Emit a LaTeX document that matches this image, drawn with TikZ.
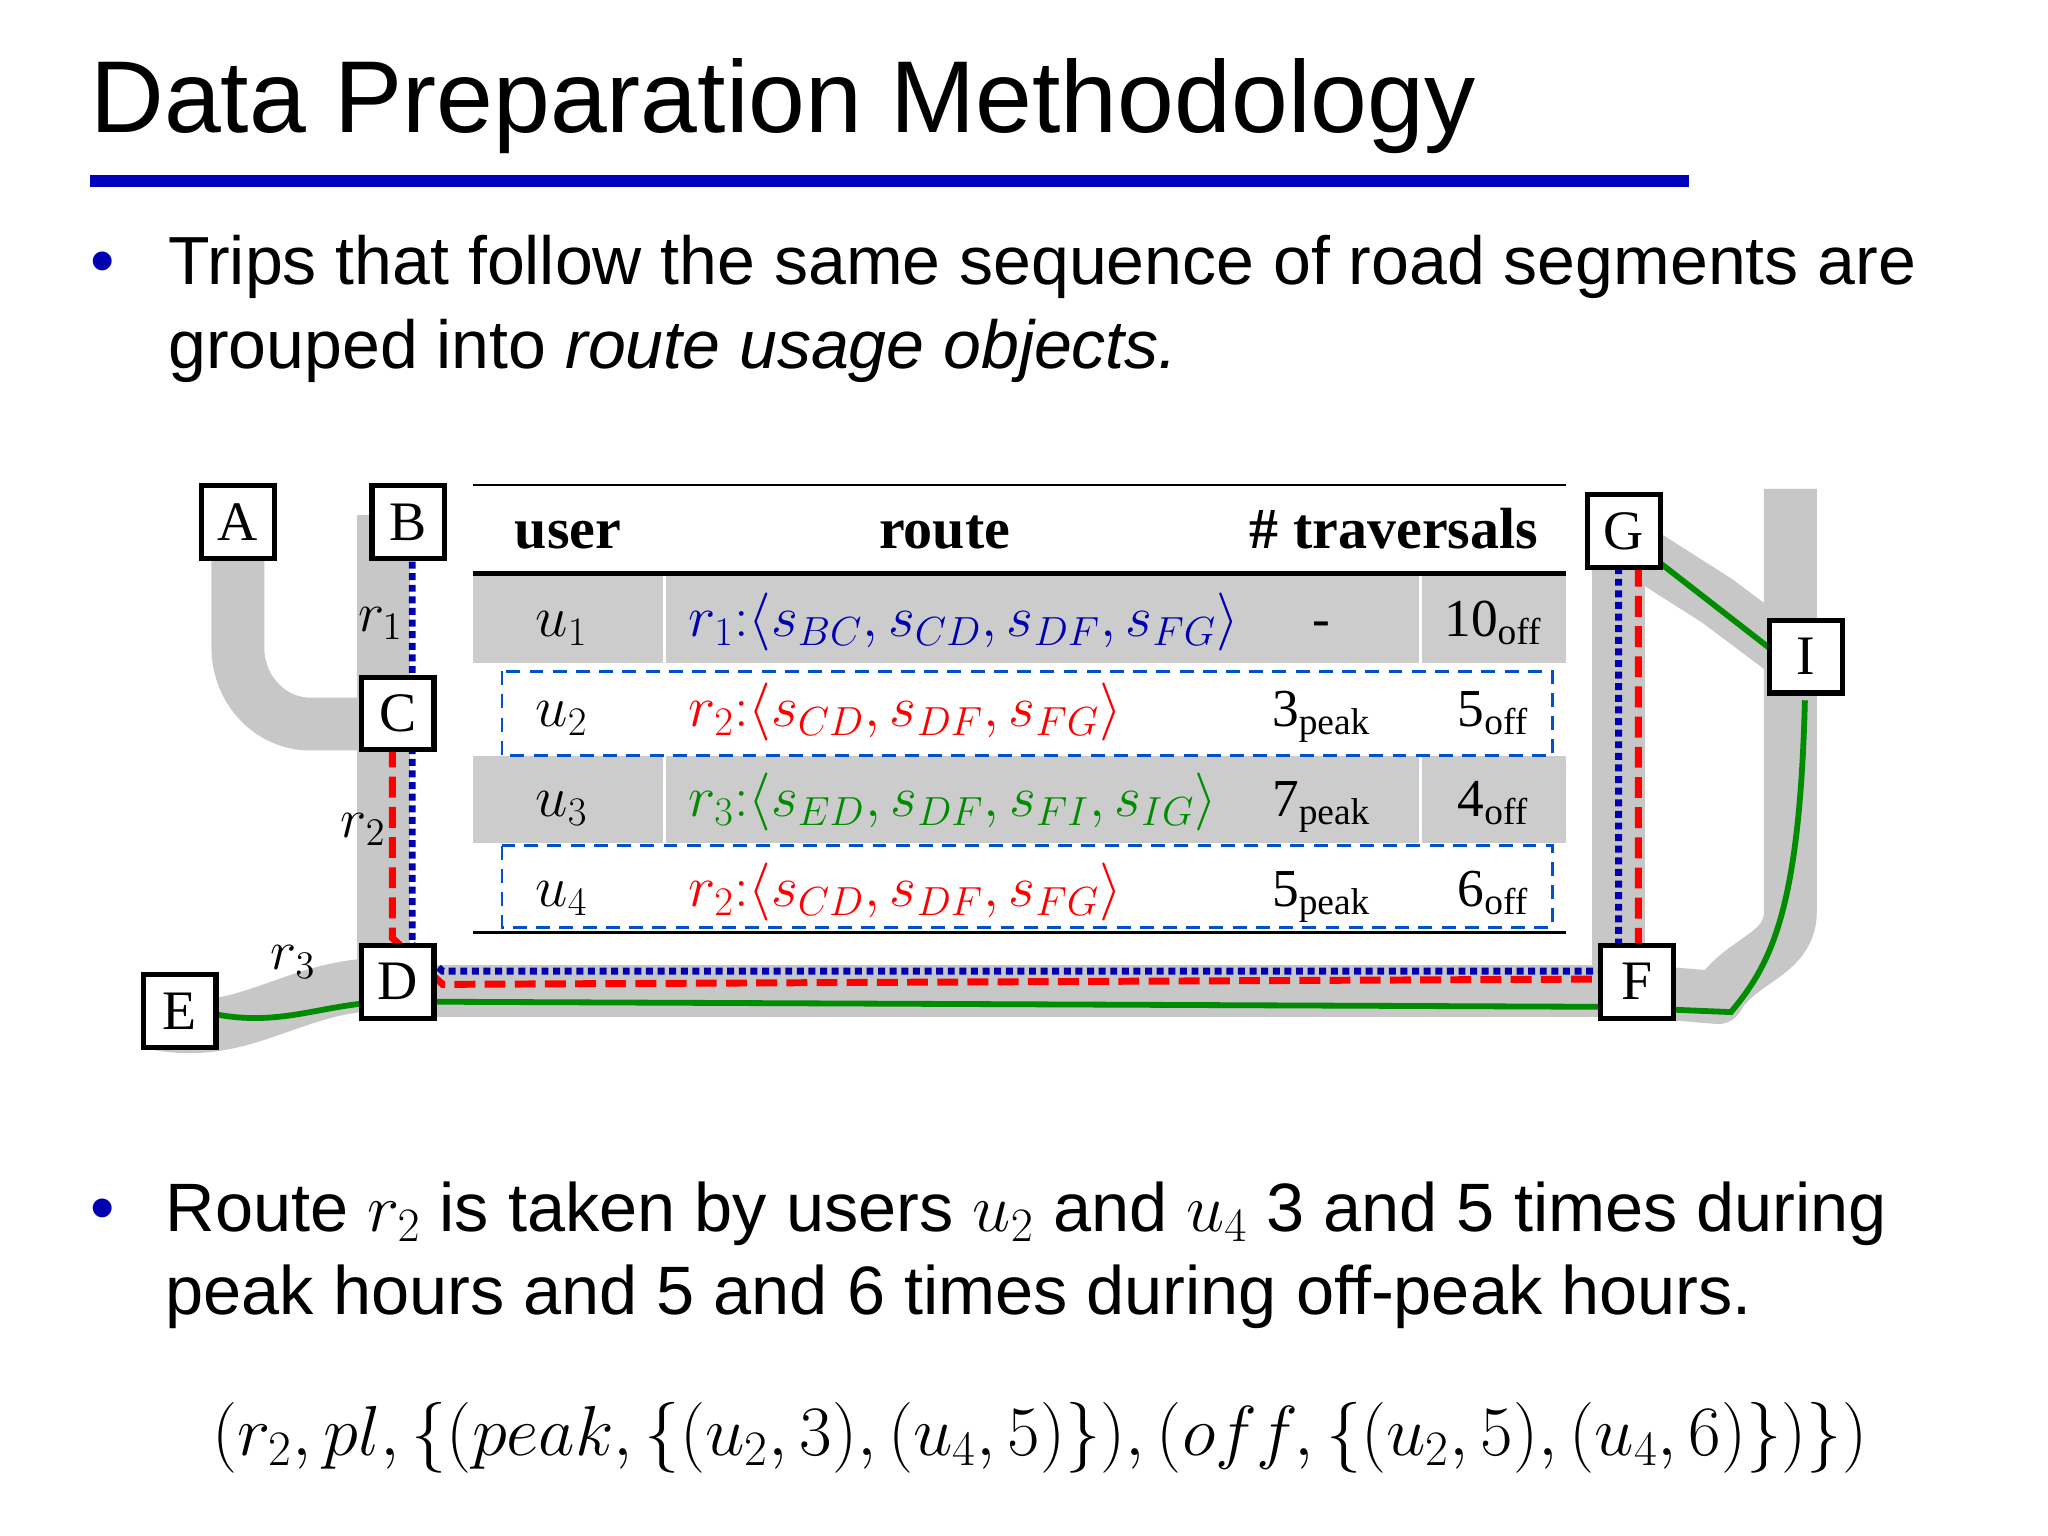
\RequirePackage{fix-cm}
\documentclass[tikz,border=0pt]{standalone}
\usepackage{fontspec}
\setmainfont{Liberation Sans}
\newfontfamily\tserif{Liberation Serif}
\begin{document}
\begin{tikzpicture}[x=0.02cm,y=-0.02cm,
 road/.style={line width=0.8cm, draw=black!22, line cap=butt, line join=round},
 bx/.style={draw=black, line width=2.2pt, fill=white, minimum size=1.1cm, inner sep=0pt, font=\tserif\fontsize{24}{24}\selectfont},
 cell/.style={font=\tserif\fontsize{23}{26}\selectfont, anchor=base},
 bl/.style={draw=blue!70!black, line width=3pt, dash pattern=on 3pt off 2pt},
 rd/.style={draw=red, line width=3pt, dash pattern=on 9pt off 4pt},
 gr/.style={draw=green!55!black, line width=2.5pt},
 dbox/.style={draw=blue!60!cyan!80!black, line width=1.2pt, dash pattern=on 6pt off 4pt}]
\useasboundingbox (0,0) rectangle (1550,1162);
\fill[white] (0,0) rectangle (1550,1162);
% title
\node[anchor=base west, font=\fontsize{44}{48}\selectfont, inner sep=0] (title) at (68,100) {Data Preparation Methodology};
\draw[line width=5pt, blue!75!black] (68,137) -- (1278,137);
% bullet 1
\node[anchor=base west, font=\fontsize{30}{32}\selectfont, text=blue!70!black, inner sep=0] (b1) at (68,215) {\textbullet};
\node[anchor=base west, font=\fontsize{29.3}{32}\selectfont, inner sep=0] (t1) at (127,215) {Trips that follow the same sequence of road segments are};
\node[anchor=base west, font=\fontsize{29.3}{32}\selectfont, inner sep=0] (t1b) at (127,279) {grouped into \textit{route usage objects.}};
% roads
\draw[road] (180,420) -- (180,490) to[out=-90,in=180] (235,548) -- (300,548);
\draw[road] (290,390) -- (290,750) -- (1240,750);
\draw[road] (120,775) to[out=-10,in=180] (290,745);
\draw[road] (1225,400) -- (1225,750);
\draw[road] (1240,750) -- (1300,755) to[out=60,in=-90] (1355,690) -- (1355,370);
\draw[road] (1245,420) -- (1300,455) -- (1360,500);
% colored routes
\draw[bl] (312,425) -- (312,715) -- (335,735) -- (1225,735) -- (1225,430);
\draw[rd] (297,565) -- (297,710) -- (335,745) -- (1210,741) -- (1240,735) -- (1240,430);
\draw[gr] (165,768) to[out=-10,in=180] (300,758) -- (1215,762) -- (1310,766) .. controls (1340,730) and (1362,690) .. (1366,530);
\draw[gr] (1255,425) -- (1345,495);
% route labels
\node[font=\fontsize{24}{24}\selectfont] (lr1) at (288,472) {$r_1$};
\node[font=\fontsize{24}{24}\selectfont] (lr2) at (275,628) {$r_2$};
\node[font=\fontsize{24}{24}\selectfont] (lr3) at (222,728) {$r_3$};
% boxes
\node[bx] (A) at (180,395) {A};
\node[bx] (B) at (309,395) {B};
\node[bx] (C) at (301,540) {C};
\node[bx] (D) at (301,743) {D};
\node[bx] (E) at (136,765) {E};
\node[bx] (F) at (1239,743) {F};
\node[bx] (G) at (1229,402) {G};
\node[bx] (I) at (1367,497) {I};
% table
\fill[white] (358,367) rectangle (1185,706);
\fill[black!20] (358,434) rectangle (1185,502);
\fill[black!20] (358,572) rectangle (1185,638);
\draw[white, line width=1.5pt] (503,434) -- (503,502) (1075,434) -- (1075,502) (503,572) -- (503,638) (1075,572) -- (1075,638);
\draw[line width=1.2pt] (358,367) -- (1185,367);
\draw[line width=2pt] (358,434) -- (1185,434);
\draw[line width=1.2pt] (358,706) -- (1185,706);
\draw[dbox] (380,508) rectangle (1175,572);
\draw[dbox] (380,640) rectangle (1175,702);
\node[cell, font=\tserif\bfseries\fontsize{25}{26}\selectfont] (h1) at (430,415) {user};
\node[cell, font=\tserif\bfseries\fontsize{25}{26}\selectfont] (h2) at (715,415) {route};
\node[cell, font=\tserif\bfseries\fontsize{25}{26}\selectfont] (h3) at (1055,415) {\# traversals};
\foreach \y/\u/\r/\c/\route/\o in {
 482/1/1/blue!70!black/{s_{BC},s_{CD},s_{DF},s_{FG}}/10,
 550/2/2/red/{s_{CD},s_{DF},s_{FG}}/5,
 618/3/3/green!55!black/{s_{ED},s_{DF},s_{FI},s_{IG}}/4,
 686/4/2/red/{s_{CD},s_{DF},s_{FG}}/6}{
 \node[cell, font=\fontsize{25}{26}\selectfont] at (425,\y) {$u_\u$};
 \node[cell, anchor=base west, text=\c, font=\fontsize{25}{26}\selectfont] at (515,\y) {$r_\r{:}\langle \route\rangle$};
 \node[cell] at (1130,\y) {\o\textsubscript{off}};
}
\node[cell] at (1000,482) {-};
\foreach \y/\p in {550/3,618/7,686/5}
 \node[cell] at (1000,\y) {\p\textsubscript{peak}};
% bullet 2
\node[anchor=base west, font=\fontsize{30}{32}\selectfont, text=blue!70!black, inner sep=0] (b2) at (68,932) {\textbullet};
\node[anchor=base west, font=\fontsize{29.5}{32}\selectfont, inner sep=0] (t2) at (125,932) {Route $r_2$ is taken by users $u_2$ and $u_4$ 3 and 5 times during};
\node[anchor=base west, font=\fontsize{29.5}{32}\selectfont, inner sep=0] (t2b) at (125,995) {peak hours and 5 and 6 times during off-peak hours.};
\node[font=\fontsize{30.5}{34}\selectfont] (f) at (787,1088) {$(r_2, pl, \{(peak, \{(u_2,3),(u_4,5)\}),(off,\{(u_2,5),(u_4,6)\})\})$};
\end{tikzpicture}
\end{document}
